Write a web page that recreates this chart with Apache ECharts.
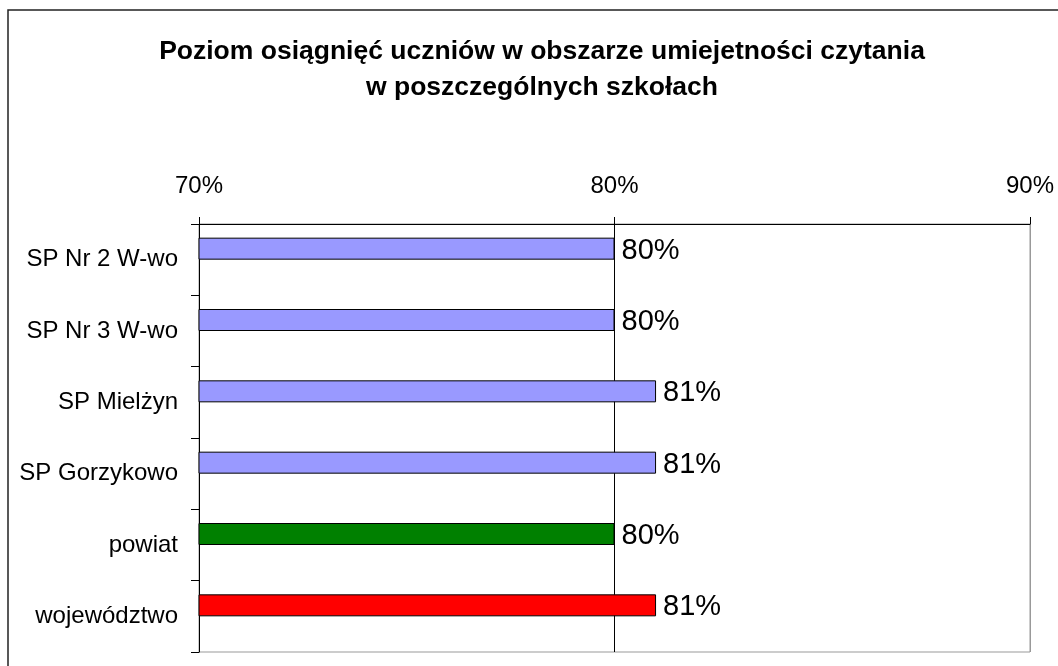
<!DOCTYPE html>
<html>
<head>
<meta charset="utf-8">
<script src="https://cdn.jsdelivr.net/npm/echarts@6/dist/echarts.min.js"></script>
<style>
html,body{margin:0;padding:0;background:#fff;}
#c{width:1058px;height:666px;}
</style>
</head>
<body>
<div id="c"></div>
<script>
const titleText = 'Poziom osiągnięć uczniów w obszarze umiejetności czytania\nw poszczególnych szkołach';
const categories = ['SP Nr 2 W-wo', 'SP Nr 3 W-wo', 'SP Mielżyn', 'SP Gorzykowo', 'powiat', 'województwo'];
const values = [80, 80, 81, 81, 80, 81];
const barColors = ['#9999FF', '#9999FF', '#9999FF', '#9999FF', '#008000', '#FF0000'];
const emptySeries = [null, null, null, null, null, null];
const axisMin = 70, axisMax = 90, axisStep = 10;

const FONT = "'Liberation Sans', Arial, sans-serif";
const chart = echarts.init(document.getElementById('c'), null, {renderer: 'canvas'});
chart.setOption({
  animation: false,
  backgroundColor: '#fff',
  title: {
    text: titleText,
    left: 537,
    top: 29,
    textAlign: 'center',
    textStyle: {fontFamily: FONT, fontSize: 26.5, fontWeight: 'bold', color: '#000', lineHeight: 36}
  },
  graphic: [{
    type: 'rect',
    shape: {x: 8, y: 10, width: 1200, height: 800},
    style: {fill: 'none', stroke: '#222', lineWidth: 1.5},
    silent: true, z: -1
  }],
  grid: {left: 199, right: 28, top: 224, bottom: 14, show: true, borderColor: '#999', borderWidth: 1, backgroundColor: 'transparent'},
  xAxis: {
    type: 'value', position: 'top', min: axisMin, max: axisMax, interval: axisStep,
    axisLine: {show: true, lineStyle: {color: '#000', width: 1}},
    axisTick: {show: true, length: 7, lineStyle: {color: '#000'}},
    axisLabel: {formatter: '{value}%', fontFamily: FONT, fontSize: 24, color: '#000', margin: 26},
    splitLine: {show: true, lineStyle: {color: ['#000', '#000', '#999'], width: 1}}
  },
  yAxis: {
    type: 'category', data: categories, inverse: true,
    axisLine: {show: true, lineStyle: {color: '#000', width: 1}},
    axisTick: {show: true, length: 8, alignWithLabel: false, lineStyle: {color: '#000'}},
    axisLabel: {fontFamily: FONT, fontSize: 24, color: '#000', margin: 21},
    splitLine: {show: false}
  },
  series: [{
    type: 'bar',
    data: values.map((v, i) => ({value: v, itemStyle: {color: barColors[i]}})),
    barWidth: 22,
    barGap: '0%',
    itemStyle: {borderColor: '#000', borderWidth: 1},
    label: {show: true, position: 'right', distance: 7, offset: [0, 2], formatter: p => p.value + '%', fontFamily: FONT, fontSize: 29, color: '#000'}
  }, {
    type: 'bar',
    data: emptySeries,
    barWidth: 22,
    barGap: '0%'
  }]
});
</script>
</body>
</html>
